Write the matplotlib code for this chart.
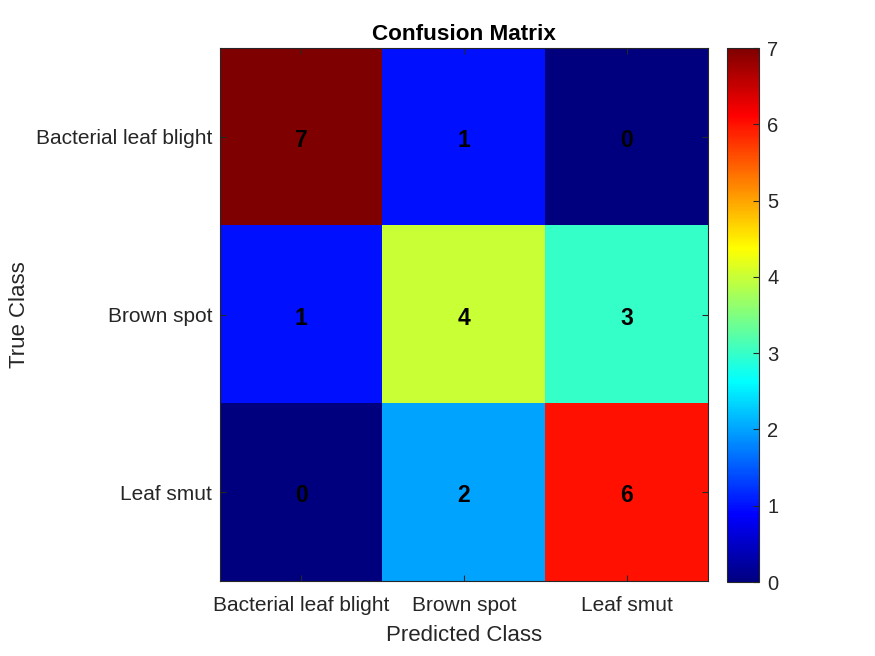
import numpy as np
import matplotlib
matplotlib.use("Agg")
import matplotlib.pyplot as plt
from matplotlib.colors import ListedColormap

plt.rcParams['font.family'] = ['Liberation Sans', 'DejaVu Sans']

# Data
classes = ["Bacterial leaf blight", "Brown spot", "Leaf smut"]
counts = [
    [7, 1, 0],
    [1, 4, 3],
    [0, 2, 6],
]
cm = np.array(counts)

# MATLAB style jet colormap
x = np.linspace(0, 1, 256)
r = np.clip(1.5 - np.abs(4 * x - 3), 0, 1)
g = np.clip(1.5 - np.abs(4 * x - 2), 0, 1)
b = np.clip(1.5 - np.abs(4 * x - 1), 0, 1)
mjet = ListedColormap(np.column_stack([r, g, b]))

grey = '#262626'

fig = plt.figure(figsize=(8.75, 6.56), dpi=100)
ax = fig.add_axes([0.2514, 0.1143, 0.5577, 0.8125])
cax = fig.add_axes([0.8309, 0.1128, 0.0366, 0.8140])

im = ax.imshow(cm, cmap=mjet, vmin=0, vmax=7, aspect='auto')

# numbers in cells
for i in range(cm.shape[0]):
    for j in range(cm.shape[1]):
        ax.text(j, i + 0.02, str(cm[i, j]), ha='center', va='center',
                fontsize=16.5, fontweight='bold', color='black')

ax.set_xticks(range(len(classes)))
ax.set_yticks(range(len(classes)))
ax.set_xticklabels(classes)
ax.set_yticklabels(classes)
ax.tick_params(direction='in', length=4, top=True, right=True,
               labelsize=15, colors=grey, labelcolor=grey)
ax.tick_params(axis='x', pad=11)
ax.tick_params(axis='y', pad=5.5)
for s in ax.spines.values():
    s.set_color(grey)
    s.set_linewidth(0.8)

ax.set_xlabel("Predicted Class", fontsize=16, color=grey, va='center')
ax.xaxis.set_label_coords(0.5, -0.103)
ax.set_ylabel("True Class", fontsize=16, color=grey, va='center')
ax.yaxis.set_label_coords(-0.41, 0.5)
ax.set_title("Confusion Matrix", fontsize=16.2, fontweight='bold', color='black', pad=6)

cb = fig.colorbar(im, cax=cax)
cb.set_ticks(range(0, 8))
cb.ax.tick_params(direction='in', length=4, labelsize=14.5, colors=grey, pad=6)
cb.outline.set_edgecolor(grey)
cb.outline.set_linewidth(0.8)

fig.savefig("out.png", dpi=100)
